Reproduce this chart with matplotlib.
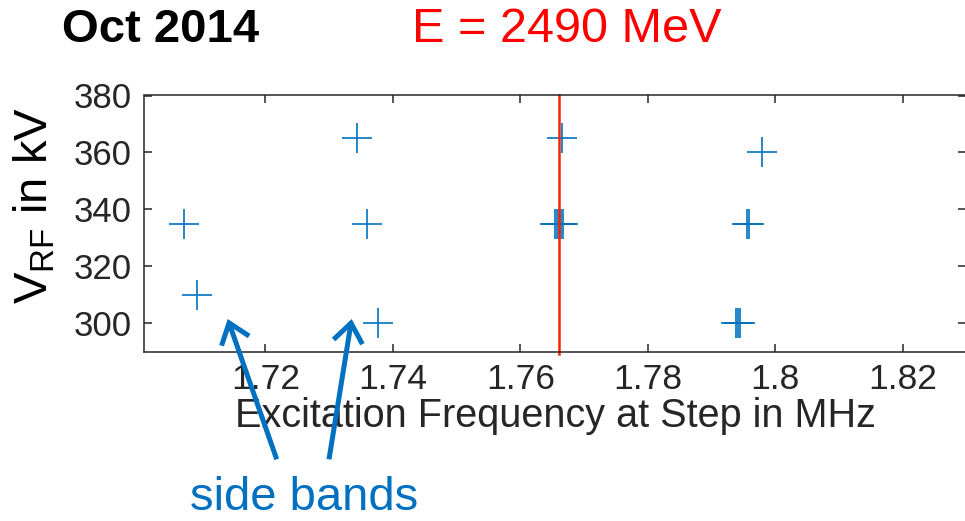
import matplotlib
matplotlib.use("Agg")
import matplotlib.pyplot as plt
from matplotlib.patches import FancyArrowPatch

plt.rcParams['font.family'] = ['Liberation Sans', 'DejaVu Sans']
plt.rcParams['mathtext.fontset'] = 'custom'
plt.rcParams['mathtext.rm'] = 'Liberation Sans'
plt.rcParams['mathtext.it'] = 'Liberation Sans'

# Data (frequency in MHz, RF voltage in kV)
freq = [1.7073, 1.7093,
        1.7343, 1.7360, 1.7377,
        1.7666, 1.76549, 1.76580, 1.76612, 1.76643, 1.76667,
        1.7979, 1.7955, 1.7959,
        1.79377, 1.79409, 1.79440]
vrf = [335, 310,
       365, 335, 300,
       365, 335, 335, 335, 335, 335,
       360, 335, 335,
       300, 300, 300]
f_line = 1.76608
x_ticks = [1.72, 1.74, 1.76, 1.78, 1.80, 1.82]
x_ticklabels = ['1.72', '1.74', '1.76', '1.78', '1.8', '1.82']
y_ticks = [300, 320, 340, 360, 380]

W, H = 965, 521
fig = plt.figure(figsize=(W / 100, H / 100), dpi=100)
ax = fig.add_axes([144.3 / W, 1 - 351.7 / H, (966.4 - 144.3) / W, (351.7 - 95.5) / H])

blue = '#0072BD'
ax.plot(freq, vrf, linestyle='none', marker='+', markersize=21.5,
        markeredgewidth=1.2, color=blue)
ax.axvline(f_line, ymin=-0.008, ymax=1, color='#FF2200', linewidth=1.8, clip_on=False)

ax.set_xlim(1.701, 1.830)
ax.set_ylim(290, 380)
ax.set_xticks(x_ticks)
ax.set_xticklabels(x_ticklabels)
ax.set_yticks(y_ticks)

dark = '#262626'
for s in ax.spines.values():
    s.set_color(dark)
    s.set_linewidth(1.1)
ax.tick_params(axis='both', direction='in', length=6, width=1.1, color=dark,
               top=True, right=True, labelcolor=dark)
ax.tick_params(axis='x', labelsize=25.5, pad=8)
ax.tick_params(axis='y', labelsize=25, pad=9)

ax.set_xlabel('Excitation Frequency at Step in MHz', fontsize=28.5, color=dark, labelpad=1)
ax.set_ylabel(r'V$_{\mathrm{RF}}$ in kV', fontsize=34, color='black')
ax.yaxis.set_label_coords(-0.106, 0.57)

fig.text(61.5 / W, 1 - 42 / H, 'Oct 2014', fontsize=34, fontweight='bold',
         color='black', va='baseline', ha='left')
fig.text(412 / W, 1 - 42 / H, 'E = 2490 MeV', fontsize=35, color='#FF0000',
         va='baseline', ha='left')

side = '#0070C0'
fig.text(304 / W, 1 - 510 / H, 'side bands', fontsize=34, color=side,
         ha='center', va='baseline')

def px(x, y):
    return (x / W, 1 - y / H)

for tail, tip in [((276.7, 459.3), (227.7, 319.0)), ((329.0, 459.3), (351.7, 319.0))]:
    arr = FancyArrowPatch(px(*tail), px(*tip), transform=fig.transFigure,
                          arrowstyle='->,head_length=1.37,head_width=1.05',
                          mutation_scale=10, color=side, linewidth=3.6,
                          shrinkA=0, shrinkB=0, capstyle='butt', joinstyle='miter')
    fig.add_artist(arr)

fig.savefig('out.png', dpi=100)
